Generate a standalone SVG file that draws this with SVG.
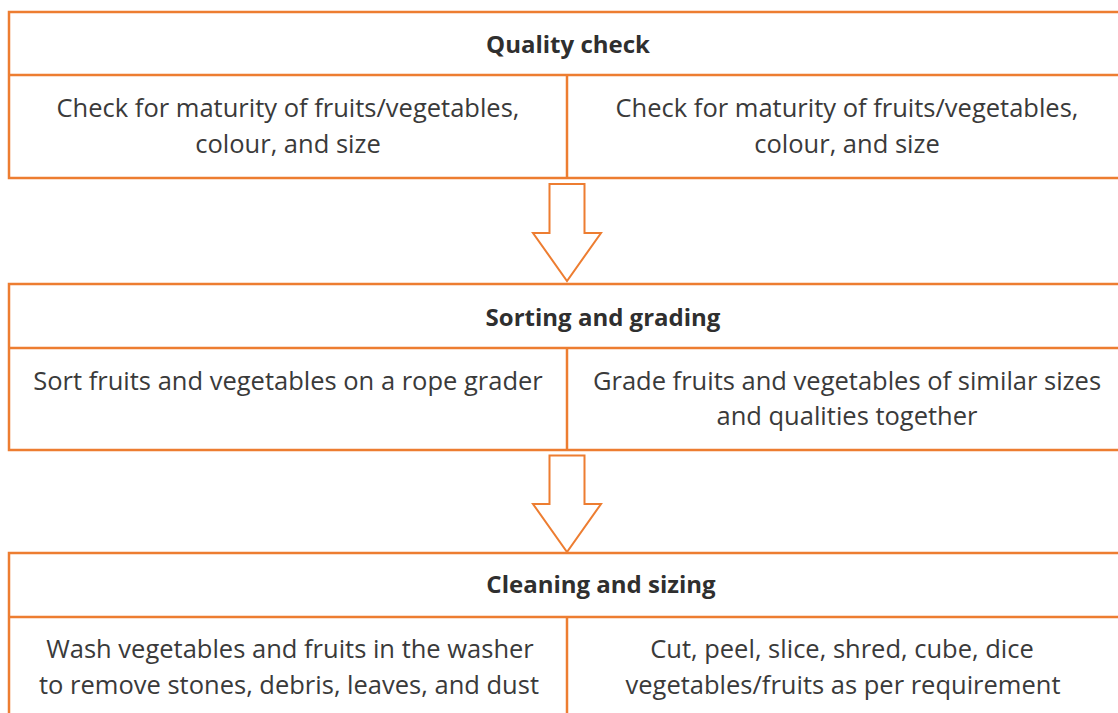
<svg xmlns="http://www.w3.org/2000/svg" width="1118" height="713" viewBox="0 0 1118 713">
<style>
.b{fill:none;stroke:#ED7D31;stroke-width:2.5}
.ar{fill:#fff;stroke:#ED7D31;stroke-width:2}
text{font-family:"Open Sans","Noto Sans",sans-serif;font-size:25.5px;fill:#3a3a3a;text-anchor:middle}
.h{font-weight:bold;font-size:24px;fill:#2f2f2f}
</style>
<rect width="1118" height="713" fill="#fff"/>
<g id="quality-check">
<rect class="b" x="9" y="12" width="1125" height="166"/>
<line class="b" x1="9" y1="75" x2="1134" y2="75"/>
<line class="b" x1="567" y1="75" x2="567" y2="178"/>
<text class="h" x="568" y="53">Quality check</text>
<text x="288" y="117">Check for maturity of fruits/vegetables,</text>
<text x="288" y="153">colour, and size</text>
<text x="847" y="117">Check for maturity of fruits/vegetables,</text>
<text x="847" y="153">colour, and size</text>
</g>
<g id="sorting-grading">
<rect class="b" x="9" y="284" width="1125" height="166"/>
<line class="b" x1="9" y1="348" x2="1134" y2="348"/>
<line class="b" x1="567" y1="348" x2="567" y2="450"/>
<text class="h" x="603" y="326">Sorting and grading</text>
<text x="288" y="390">Sort fruits and vegetables on a rope grader</text>
<text x="847" y="390">Grade fruits and vegetables of similar sizes</text>
<text x="847" y="425">and qualities together</text>
</g>
<g id="cleaning-sizing">
<rect class="b" x="9" y="553" width="1125" height="200"/>
<line class="b" x1="9" y1="617" x2="1134" y2="617"/>
<line class="b" x1="567" y1="617" x2="567" y2="753"/>
<text class="h" x="601" y="593">Cleaning and sizing</text>
<text x="290" y="658">Wash vegetables and fruits in the washer</text>
<text x="289" y="694">to remove stones, debris, leaves, and dust</text>
<text x="842" y="658">Cut, peel, slice, shred, cube, dice</text>
<text x="843" y="694">vegetables/fruits as per requirement</text>
</g>
<g id="connectors">
<polygon class="ar" points="549.5,184 584.5,184 584.5,233 601,233 567,281 533,233 549.5,233"/>
<polygon class="ar" points="549.5,455.5 584.5,455.5 584.5,504 601,504 567,552 533,504 549.5,504"/>
</g>
</svg>
